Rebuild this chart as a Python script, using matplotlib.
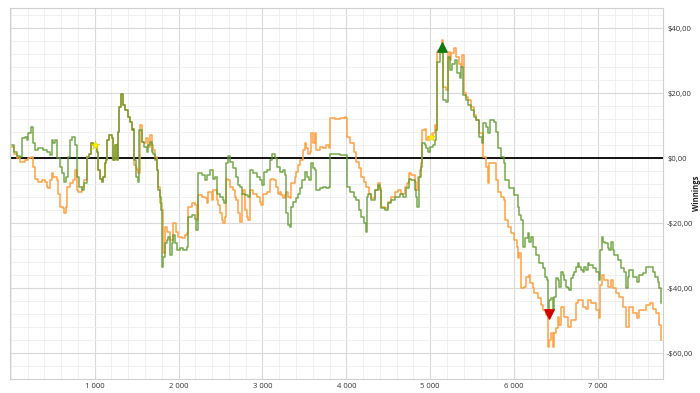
import matplotlib
matplotlib.use('Agg')
import matplotlib.pyplot as plt
from matplotlib.ticker import MultipleLocator, FuncFormatter

# ---- data (hands played vs. winnings in $) ----
green_x = [12, 32, 71, 111, 131, 171, 190, 210, 238, 262, 290, 329, 389, 429, 468, 488, 508, 528, 548, 587,
           607, 635, 659, 687, 706, 726, 766, 794, 818, 845, 873, 905, 937, 952, 984, 1024, 1044, 1063, 1083, 1103,
           1123, 1135, 1151, 1175, 1202, 1222, 1242, 1262, 1274, 1294, 1310, 1333, 1361, 1401, 1421, 1440, 1460,
           1468, 1492, 1520, 1532, 1560, 1587, 1619, 1639, 1659, 1679, 1699, 1718, 1738, 1758, 1778, 1790, 1798,
           1818, 1837, 1857, 1877, 1897, 1917, 1937, 1956, 1976, 2016, 2056, 2095, 2115, 2155, 2194, 2206, 2234,
           2274, 2313, 2341, 2373, 2405, 2432, 2460, 2492, 2524, 2540, 2563, 2591, 2611, 2651, 2690, 2710, 2730,
           2750, 2790, 2829, 2849, 2889, 2929, 2968, 3000, 3016, 3056, 3087, 3119, 3147, 3175, 3214, 3246, 3266,
           3286, 3306, 3325, 3345, 3365, 3397, 3425, 3444, 3476, 3504, 3532, 3556, 3583, 3603, 3623, 3643, 3683,
           3723, 3762, 3794, 3810, 3861, 3921, 4000, 4008, 4048, 4087, 4119, 4151, 4179, 4206, 4230, 4246, 4258,
           4298, 4337, 4377, 4397, 4417, 4456, 4496, 4536, 4575, 4595, 4635, 4675, 4714, 4746, 4774, 4813, 4833,
           4845, 4865, 4885, 4905, 4932, 4952, 4972, 4992, 5032, 5052, 5071, 5079, 5111, 5139, 5151, 5190, 5210,
           5230, 5258, 5290, 5321, 5349, 5369, 5389, 5429, 5456, 5488, 5520, 5548, 5587, 5615, 5627, 5667, 5694,
           5718, 5758, 5786, 5806, 5845, 5877, 5893, 5944, 5996, 6044, 6060, 6083, 6103, 6135, 6163, 6183, 6202,
           6230, 6262, 6302, 6342, 6373, 6389, 6401, 6421, 6440, 6460, 6480, 6500, 6520, 6540, 6560, 6580, 6599,
           6619, 6639, 6659, 6679, 6699, 6718, 6738, 6758, 6778, 6798, 6818, 6837, 6857, 6877, 6897, 6937, 6976,
           7008, 7024, 7048, 7063, 7087, 7115, 7135, 7155, 7175, 7194, 7234, 7274, 7313, 7333, 7353, 7373, 7420,
           7460, 7484, 7532, 7571, 7619, 7651, 7683, 7710, 7730, 7750]
green_y = [4.0, 1.9, 0.6, 0.2, 6.1, 6.6, 5.5, 7.6, 9.6, 4.5, 2.5, 3.0, 2.5, 1.9, 0.9, 5.5, 4.5, 5.7, -0.1, -2.7,
           -4.7, -7.3, -5.7, 0.4, 5.5, 6.4, 4.0, -5.7, -8.8, -9.8, -7.8, 0.4, 1.4, 4.5, 4.0, 1.9, -3.7, -6.3, -7.3, -5.7,
           -1.6, -0.6, 5.5, 7.1, 6.1, -0.6, 4.0, -0.6, 8.1, 15.8, 19.7, 16.3, 14.8, 12.7, 11.2, 8.6, 9.1,
           -0.6, -5.7, -7.3, 8.6, 5.0, 3.5, 1.9, 4.0, 5.0, 1.9, 1.4, -0.6, -3.7, -9.8, -11.9, -16.0, -33.4,
           -30.4, -26.2, -25.2, -24.2, -29.8, -26.2, -23.7, -26.2, -28.3, -27.8, -28.3, -27.3, -18.1, -17.5, -18.6, -22.2, -4.7,
           -5.2, -6.8, -5.2, -3.7, -6.3, -5.7, -10.9, -11.9, -12.9, -13.9, -1.6, 0.6, -1.1, -3.2, -5.7, -8.3, -8.8,
           -10.9, -11.4, -11.9, -3.7, -4.7, -5.7, -6.8, -8.3, -4.2, -3.7, -0.6, 1.2, -0.1, -2.7, -4.2, -3.7, -5.2,
           -17.0, -20.6, -21.1, -15.0, -13.4, -12.4, -10.9, -9.3, -6.8, -4.2, -5.7, -6.8, -1.6, -3.2, -3.7, -9.8, -9.3,
           -8.8, -9.3, -8.8, 1.4, 1.2, 0.9, 0.9, -8.8, -10.4, -11.9, -12.9, -16.0, -18.1, -20.1, -22.7, -11.9, -10.9,
           -12.9, -9.8, -8.3, -9.8, -15.5, -16.0, -13.9, -12.9, -11.9, -11.9, -10.9, -11.9, -9.3, -6.3, -6.8, -9.8, -11.9,
           -15.0, -5.7, -2.7, 4.5, 4.0, 3.0, 1.9, 3.5, 4.0, 5.5, 8.6, 29.6, 32.7, 32.2, 17.8, 17.3, 31.2,
           27.1, 29.1, 30.2, 26.1, 24.5, 28.1, 19.4, 17.8, 16.3, 14.8, 12.7, 11.7, 6.6, 4.5, 10.7, 9.6, 7.6,
           11.7, 11.2, 8.1, 3.0, 0.4, -1.6, -6.8, -9.3, -11.4, -15.0, -17.5, -19.1, -27.3, -24.7, -23.2, -25.7, -24.2,
           -27.3, -29.8, -32.4, -33.9, -36.5, -37.5, -46.8, -43.7, -43.2, -46.8, -42.7, -37.0, -37.5, -39.6, -35.0, -36.0, -37.5,
           -39.6, -40.1, -40.6, -37.0, -36.0, -35.0, -33.4, -32.4, -33.4, -34.5, -35.0, -33.4, -34.5, -32.4, -32.9, -33.9, -35.0,
           -37.5, -28.3, -24.2, -25.7, -26.2, -27.8, -28.3, -25.7, -28.3, -29.8, -31.4, -33.9, -35.0, -40.1, -36.5, -34.5, -36.5,
           -38.1, -36.0, -35.5, -33.4, -33.4, -35.0, -36.5, -38.1, -40.1, -44.7]

orange_x = [12, 32, 71, 111, 151, 171, 210, 238, 262, 290, 329, 369, 409, 429, 448, 468, 488, 508, 548, 567,
            587, 619, 639, 659, 675, 706, 746, 766, 786, 806, 845, 873, 905, 937, 952, 984, 1024, 1044, 1063, 1083,
            1103, 1123, 1135, 1151, 1175, 1202, 1222, 1242, 1262, 1274, 1294, 1310, 1333, 1361, 1401, 1421, 1440,
            1460, 1468, 1492, 1508, 1520, 1540, 1560, 1587, 1611, 1639, 1659, 1679, 1699, 1718, 1738, 1758, 1778,
            1798, 1810, 1837, 1857, 1897, 1937, 1968, 1996, 2036, 2075, 2095, 2115, 2155, 2194, 2214, 2234, 2274,
            2313, 2333, 2353, 2393, 2413, 2452, 2472, 2492, 2512, 2532, 2551, 2571, 2591, 2611, 2651, 2671, 2690,
            2710, 2730, 2750, 2770, 2790, 2810, 2829, 2849, 2889, 2929, 2968, 2988, 3008, 3048, 3087, 3107, 3135,
            3167, 3187, 3206, 3226, 3246, 3266, 3286, 3306, 3325, 3345, 3385, 3405, 3425, 3444, 3484, 3504, 3524,
            3544, 3563, 3583, 3603, 3623, 3643, 3683, 3723, 3762, 3794, 3810, 3861, 3921, 3980, 4000, 4012, 4048,
            4087, 4119, 4151, 4179, 4206, 4238, 4270, 4298, 4337, 4377, 4397, 4417, 4456, 4496, 4536, 4575, 4615,
            4655, 4694, 4722, 4746, 4774, 4813, 4833, 4853, 4873, 4885, 4905, 4932, 4952, 4972, 5012, 5032, 5052,
            5071, 5079, 5091, 5123, 5139, 5155, 5190, 5210, 5230, 5250, 5282, 5310, 5337, 5361, 5377, 5401, 5429,
            5456, 5488, 5520, 5548, 5587, 5627, 5667, 5687, 5706, 5746, 5786, 5806, 5845, 5877, 5893, 5925, 5964,
            6004, 6032, 6044, 6063, 6083, 6123, 6143, 6175, 6190, 6222, 6242, 6282, 6321, 6349, 6381, 6401, 6421,
            6440, 6460, 6480, 6500, 6520, 6540, 6560, 6599, 6639, 6679, 6738, 6758, 6818, 6857, 6877, 6917, 6976,
            7008, 7024, 7048, 7075, 7115, 7155, 7175, 7214, 7254, 7294, 7333, 7373, 7420, 7460, 7492, 7532, 7571,
            7619, 7651, 7690, 7730, 7750]
orange_y = [3.5, 1.4, -0.1, -1.1, -1.1, -0.6, -0.1, 0.2, -2.7, -6.3, -7.3, -6.8, -7.3, -8.8, -9.3, -6.8, -4.7, -5.7, -6.8, -10.9,
            -15.0, -15.5, -17.0, -15.0, -8.8, -7.8, -6.8, -3.7, -9.8, -10.4, -8.8, -6.8, 0.4, 1.4, 4.5, 4.0, 1.9, -3.7, -6.3, -7.3,
            -5.7, -1.6, -0.6, 5.5, 7.1, 6.1, -0.6, 4.0, -0.6, 8.1, 15.8, 19.7, 16.3, 14.8, 12.7, 11.2, 8.6,
            9.1, -2.2, -3.2, -3.7, -4.7, 10.2, 5.0, 4.5, 6.1, 3.5, 7.1, 4.0, 2.5, 0.4, -3.7, -8.8, -13.9,
            -16.0, -29.3, -21.1, -22.7, -25.2, -20.1, -22.7, -24.2, -24.7, -23.7, -23.2, -15.0, -13.9, -14.5, -19.1, -11.4, -11.9,
            -12.4, -13.9, -10.4, -12.9, -9.8, -12.9, -14.5, -17.0, -19.1, -20.1, -18.1, -6.3, -6.8, -8.8, -9.8, -11.9, -12.9,
            -17.0, -19.6, -10.9, -9.8, -16.0, -18.1, -19.1, -9.8, -10.9, -11.9, -13.4, -14.5, -10.9, -10.4, -6.8, -6.3, -6.8,
            -8.8, -10.9, -10.4, -11.4, -12.4, -11.4, -10.4, -11.9, -12.4, -7.8, -5.7, -4.2, -2.2, -0.6, 2.5, 4.5, 3.0,
            1.4, 1.9, 7.6, 4.5, 7.6, 2.5, 3.5, 3.0, 4.0, 3.0, 12.2, 11.9, 12.2, 12.5, 12.2, 6.6, 4.5,
            1.9, -1.1, -3.2, -5.7, -7.3, -8.8, -10.9, -12.4, -9.8, -7.8, -9.3, -15.0, -15.5, -13.4, -11.9, -10.4, -9.8,
            -10.9, -8.8, -7.8, -4.7, -5.2, -7.3, -9.8, -5.7, -3.7, -1.6, 8.6, 9.1, 5.5, 6.6, 6.6, 7.6, 10.2,
            8.6, 32.7, 33.2, 33.8, 36.3, 21.9, 20.9, 32.7, 30.2, 32.2, 33.8, 31.2, 29.1, 28.1, 31.7, 19.9, 18.9,
            17.8, 15.8, 13.2, 11.7, 7.6, 0.4, -2.7, -7.8, -1.6, -1.6, -6.8, -10.4, -11.9, -12.9, -19.1, -21.1, -23.2,
            -25.2, -27.3, -30.9, -29.3, -40.1, -39.6, -36.5, -36.0, -38.6, -40.1, -41.6, -43.2, -45.2, -46.8, -48.3, -58.1, -56.0,
            -53.9, -58.1, -53.9, -52.4, -48.8, -51.4, -45.8, -48.8, -51.9, -49.8, -44.7, -43.7, -45.8, -46.3, -43.7, -44.7, -46.8,
            -49.3, -39.1, -36.0, -37.5, -39.6, -37.5, -40.1, -41.6, -42.7, -45.8, -51.9, -45.8, -47.8, -49.3, -46.8, -46.8, -45.2,
            -44.7, -46.3, -47.8, -51.4, -56.0]

peak_x, peak_y = [5140], [34.3]
trough_x, trough_y = [6420], [-48.1]
star_x, star_y = [1004, 5012], [4.0, 6.4]

x_ticks = [1000, 2000, 3000, 4000, 5000, 6000, 7000]
y_ticks = [-60, -40, -20, 0, 20, 40]

# ---- figure ----
plt.rcParams['font.family'] = ['Open Sans', 'DejaVu Sans']
fig = plt.figure(figsize=(7, 3.93), dpi=100)
ax = fig.add_axes([10 / 700, 1 - 379 / 393, 653 / 700, 371 / 393])
ax.set_xlim(-10, 7775)
ax.set_ylim(-68.0, 46.2)

ax.set_axisbelow(True)
ax.xaxis.set_major_locator(MultipleLocator(1000))
ax.xaxis.set_minor_locator(MultipleLocator(200))
ax.yaxis.set_major_locator(MultipleLocator(20))
ax.yaxis.set_minor_locator(MultipleLocator(4))
ax.grid(which='major', color='#d9d9d9', lw=0.8)
ax.grid(which='minor', color='#eeeeee', lw=0.6)
ax.set_xticks(x_ticks)
ax.set_yticks(y_ticks)


def fmt_money(v, pos=None):
    s = f"{abs(v):.2f}".replace('.', ',')
    return ("-$" if v < 0 else "$") + s


def fmt_hands(v, pos=None):
    return f"{int(v):,}".replace(',', ' ')


ax.yaxis.set_major_formatter(FuncFormatter(fmt_money))
ax.xaxis.set_major_formatter(FuncFormatter(fmt_hands))
ax.yaxis.tick_right()
ax.yaxis.set_label_position('right')
ax.tick_params(which='both', length=0, labelsize=5.5, colors='#333333', pad=3)
ax.set_ylabel('Winnings', fontsize=5.5, fontweight='bold', color='#222222')
ax.yaxis.set_label_coords(1.0445, 0.5)

for s in ax.spines.values():
    s.set_color('#d0d0d0')
    s.set_linewidth(0.8)

ax.axhline(0, color='black', lw=1.3, zorder=2)

ax.plot(orange_x, orange_y, color='#ffa244', lw=1.1, drawstyle='steps-post', zorder=3)
ax.plot(green_x, green_y, color='#5e9a2c', lw=1.1, alpha=0.85, drawstyle='steps-post', zorder=4)

ax.scatter(peak_x, peak_y, marker='^', s=45, color='#107a10', zorder=6)
ax.scatter(trough_x, trough_y, marker='v', s=45, color='#d40000', zorder=6)
ax.scatter(star_x, star_y, marker='*', s=45, color='#ffee00', edgecolors='#d8c000', linewidths=0.3, zorder=6)

fig.savefig('out.png', dpi=100, facecolor='white')
